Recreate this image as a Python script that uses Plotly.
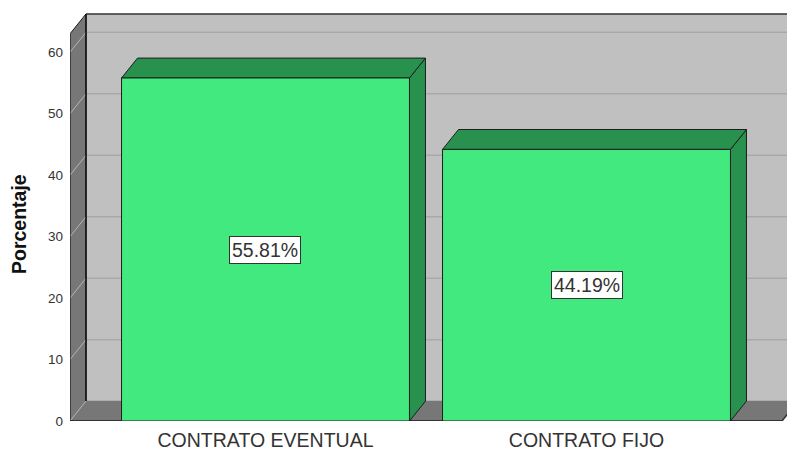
import plotly.graph_objects as go

# Data
categories = ["CONTRATO EVENTUAL", "CONTRATO FIJO"]
percentages = [55.81, 44.19]
y_ticks = [0, 10, 20, 30, 40, 50, 60]

# Styling
FRONT = "#41E97E"
SIDE = "#27914D"
WALL = "#C0C0C0"
DARK_WALL = "#777777"
EDGE = "#1E1E1E"
FONT = "Arial, Liberation Sans, sans-serif"

X_RANGE = [-0.609, 1.6246]
Y_RANGE = [0, 68.5]
BAR_W = 0.897
DX = 16 / 321          # depth offset along x (data units)
DY = 20 / 6.175        # depth offset along y (data units)
WALL_TOP = 63
FLOOR_RIGHT = 1.609

x_pos = list(range(len(categories)))
x0 = X_RANGE[0]


def poly(pts, fill, line=EDGE, width=1):
    d = "M " + " L ".join(f"{px},{py}" for px, py in pts) + " Z"
    return dict(type="path", path=d, xref="x", yref="y", layer="below",
                fillcolor=fill, line=dict(color=line, width=width))


def seg(xa, ya, xb, yb, color, width=1):
    return dict(type="line", x0=xa, y0=ya, x1=xb, y1=yb, xref="x", yref="y",
                layer="below", line=dict(color=color, width=width))


shapes = []
# back wall
shapes.append(dict(type="rect", x0=x0 + DX, x1=X_RANGE[1] + 0.2, y0=DY, y1=WALL_TOP + DY,
                   xref="x", yref="y", layer="below", fillcolor=WALL, line=dict(width=0)))
# back wall gridlines
for v in y_ticks:
    shapes.append(seg(x0 + DX, v + DY, X_RANGE[1] + 0.2, v + DY, "#A9A9A9", 1.5))
# top edge of back wall
shapes.append(seg(x0 + DX, WALL_TOP + DY, X_RANGE[1] + 0.2, WALL_TOP + DY, "#333333", 1.5))
# left wall
shapes.append(poly([(x0, 0), (x0, WALL_TOP), (x0 + DX, WALL_TOP + DY), (x0 + DX, DY)], DARK_WALL))
for v in y_ticks:
    shapes.append(seg(x0, v, x0 + DX, v + DY, "#B4B4B4", 1))
# floor
shapes.append(poly([(x0, 0), (FLOOR_RIGHT, 0), (FLOOR_RIGHT + DX, DY), (x0 + DX, DY)], DARK_WALL,
                   line=DARK_WALL, width=0))
shapes.append(seg(x0, 0, x0 + DX, DY, "#B4B4B4", 1))
shapes.append(seg(x0, 0, FLOOR_RIGHT, 0, "#333333", 2))
shapes.append(seg(FLOOR_RIGHT, 0, FLOOR_RIGHT + DX, DY, "#333333", 1.5))
# inner wall corner
shapes.append(seg(x0 + DX, DY, x0 + DX, WALL_TOP + DY, "#111111", 1.5))
shapes.append(seg(x0, 0, x0, WALL_TOP, "#333333", 1))

# bar depth faces (right side and top)
for xc, v in zip(x_pos, percentages):
    left, right = xc - BAR_W / 2, xc + BAR_W / 2
    shapes.append(poly([(right, 0), (right, v), (right + DX, v + DY), (right + DX, DY)], SIDE))
    shapes.append(poly([(left, v), (right, v), (right + DX, v + DY), (left + DX, v + DY)], SIDE))

fig = go.Figure()
fig.add_trace(go.Bar(
    x=x_pos, y=percentages, width=BAR_W,
    marker=dict(color=FRONT, line=dict(color=EDGE, width=1)),
    hoverinfo="skip", showlegend=False,
))

annotations = []
for xc, v in zip(x_pos, percentages):
    annotations.append(dict(
        x=xc, y=v / 2, xref="x", yref="y", text=f"{v:.2f}%", showarrow=False,
        font=dict(family=FONT, size=19.5, color="#333333"),
        bgcolor="white", bordercolor="#333333", borderwidth=1, borderpad=2,
    ))

# y-axis title
annotations.append(dict(
    x=-0.0711, y=0.468, xref="paper", yref="paper", text="<b>Porcentaje</b>",
    textangle=-90, showarrow=False, xanchor="center", yanchor="middle",
    font=dict(family=FONT, size=19.5, color="#111111"),
))

fig.update_layout(
    width=787, height=451,
    margin=dict(l=70, r=0, t=0, b=28),
    paper_bgcolor="white", plot_bgcolor="white",
    shapes=shapes, annotations=annotations,
    font=dict(family=FONT, color="#333333"),
    xaxis=dict(range=X_RANGE, tickvals=x_pos, ticktext=categories,
               showgrid=False, zeroline=False, showline=False, ticks="",
               tickfont=dict(size=19.5, color="#333333"), ticklabelstandoff=5),
    yaxis=dict(range=Y_RANGE, tickvals=y_ticks, showgrid=False, zeroline=False,
               showline=False, ticks="", tickfont=dict(size=13.5, color="#333333"),
               ticklabelstandoff=6),
)

fig.write_html("out.html")
